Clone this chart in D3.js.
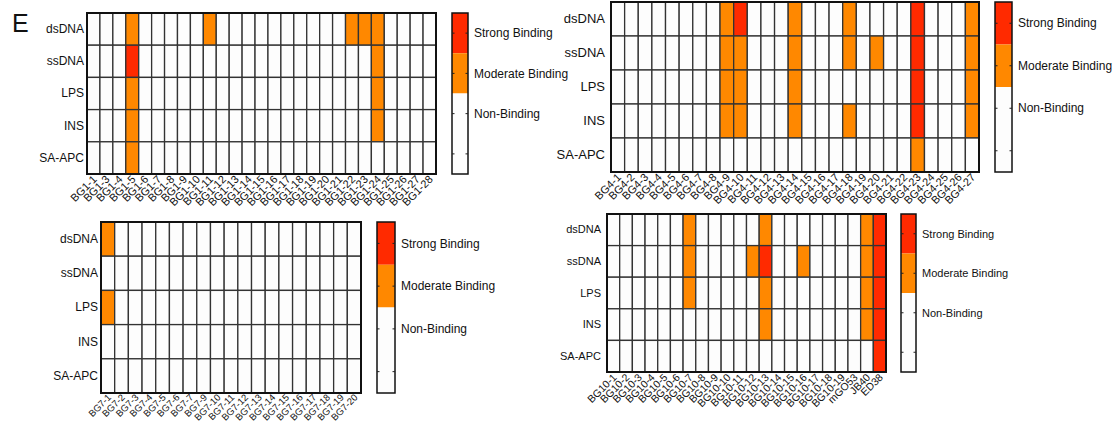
<!DOCTYPE html>
<html><head><meta charset="utf-8">
<script src="https://cdn.jsdelivr.net/npm/d3@7"></script>
<style>body{margin:0;background:#fff}svg{display:block}text{font-family:"Liberation Sans",Arial,sans-serif;fill:#111}</style>
</head><body><svg id="c" width="1113" height="423"></svg>
<script>
// 0 = Non-Binding, 1 = Moderate Binding, 2 = Strong Binding
const rows = ["dsDNA","ssDNA","LPS","INS","SA-APC"];
const levelLabels = ["Strong Binding","Moderate Binding","Non-Binding"];

const cols1 = ["BG1-1","BG1-3","BG1-4","BG1-5","BG1-6","BG1-7","BG1-8","BG1-9","BG1-10","BG1-11","BG1-12","BG1-13","BG1-14","BG1-15","BG1-16","BG1-17","BG1-18","BG1-19","BG1-20","BG1-21","BG1-22","BG1-23","BG1-24","BG1-25","BG1-26","BG1-27","BG1-28"];
const vals1 = [
 [0,0,0,1,0,0,0,0,0,1,0,0,0,0,0,0,0,0,0,0,1,1,1,0,0,0,0],
 [0,0,0,2,0,0,0,0,0,0,0,0,0,0,0,0,0,0,0,0,0,0,1,0,0,0,0],
 [0,0,0,1,0,0,0,0,0,0,0,0,0,0,0,0,0,0,0,0,0,0,1,0,0,0,0],
 [0,0,0,1,0,0,0,0,0,0,0,0,0,0,0,0,0,0,0,0,0,0,1,0,0,0,0],
 [0,0,0,1,0,0,0,0,0,0,0,0,0,0,0,0,0,0,0,0,0,0,0,0,0,0,0]
];

const cols4 = ["BG4-1","BG4-2","BG4-3","BG4-4","BG4-5","BG4-6","BG4-7","BG4-8","BG4-9","BG4-10","BG4-11","BG4-12","BG4-13","BG4-14","BG4-15","BG4-16","BG4-17","BG4-18","BG4-19","BG4-20","BG4-21","BG4-22","BG4-23","BG4-24","BG4-25","BG4-26","BG4-27"];
const vals4 = [
 [0,0,0,0,0,0,0,0,1,2,0,0,0,1,0,0,0,1,0,0,0,0,2,0,0,0,1],
 [0,0,0,0,0,0,0,0,1,1,0,0,0,1,0,0,0,1,0,1,0,0,2,0,0,0,1],
 [0,0,0,0,0,0,0,0,1,1,0,0,0,1,0,0,0,0,0,0,0,0,2,0,0,0,1],
 [0,0,0,0,0,0,0,0,1,1,0,0,0,1,0,0,0,1,0,0,0,0,2,0,0,0,1],
 [0,0,0,0,0,0,0,0,0,0,0,0,0,0,0,0,0,0,0,0,0,0,1,0,0,0,0]
];

const cols7 = ["BG7-1","BG7-2","BG7-3","BG7-4","BG7-5","BG7-6","BG7-7","BG7-9","BG7-10","BG7-11","BG7-12","BG7-13","BG7-14","BG7-15","BG7-16","BG7-17","BG7-18","BG7-19","BG7-20"];
const vals7 = [
 [1,0,0,0,0,0,0,0,0,0,0,0,0,0,0,0,0,0,0],
 [0,0,0,0,0,0,0,0,0,0,0,0,0,0,0,0,0,0,0],
 [1,0,0,0,0,0,0,0,0,0,0,0,0,0,0,0,0,0,0],
 [0,0,0,0,0,0,0,0,0,0,0,0,0,0,0,0,0,0,0],
 [0,0,0,0,0,0,0,0,0,0,0,0,0,0,0,0,0,0,0]
];

const cols10 = ["BG10-1","BG10-2","BG10-3","BG10-4","BG10-5","BG10-6","BG10-7","BG10-8","BG10-9","BG10-10","BG10-11","BG10-12","BG10-13","BG10-14","BG10-15","BG10-16","BG10-17","BG10-18","BG10-19","mGO53","JB40","ED38"];
const vals10 = [
 [0,0,0,0,0,0,1,0,0,0,0,0,1,0,0,0,0,0,0,0,1,2],
 [0,0,0,0,0,0,1,0,0,0,0,1,2,0,0,1,0,0,0,0,1,2],
 [0,0,0,0,0,0,1,0,0,0,0,0,1,0,0,0,0,0,0,0,1,2],
 [0,0,0,0,0,0,0,0,0,0,0,0,1,0,0,0,0,0,0,0,1,2],
 [0,0,0,0,0,0,0,0,0,0,0,0,0,0,0,0,0,0,0,0,0,2]
];

const color = d3.scaleOrdinal().domain([0,1,2]).range(["#fdfdfd","#ff8800","#ff2a00"]);
const svg = d3.select("#c");

svg.append("text").attr("x",12).attr("y",32).attr("font-size",25).text("E");

function panel(cfg){
  const {cols, vals, x0, x1, y0, y1, lx0, lx1, rowFont, tickFont, legFont, rowGap, tOff} = cfg;
  const g = svg.append("g");
  const x = d3.scaleBand().domain(cols).range([x0,x1]);
  const y = d3.scaleBand().domain(rows).range([y0,y1]);
  const cells = [];
  vals.forEach((r,i)=>r.forEach((v,j)=>cells.push({row:rows[i],col:cols[j],v})));
  g.selectAll("rect.cell").data(cells).join("rect")
    .attr("x",d=>x(d.col)).attr("y",d=>y(d.row))
    .attr("width",x.bandwidth()).attr("height",y.bandwidth())
    .attr("fill",d=>color(d.v)).attr("stroke","#333").attr("stroke-width",1.3);
  g.append("rect").attr("x",x0).attr("y",y0).attr("width",x1-x0).attr("height",y1-y0)
    .attr("fill","none").attr("stroke","#111").attr("stroke-width",2);
  // row labels
  const ya = g.append("g").attr("transform",`translate(${x0-rowGap},0)`)
    .call(d3.axisLeft(y).tickSize(0).tickPadding(0));
  ya.select(".domain").remove();
  ya.selectAll("text").attr("font-size",rowFont).attr("fill","#111")
    .style("font-family",'"Liberation Sans",Arial,sans-serif');
  // column labels
  const xa = g.append("g").attr("transform",`translate(0,${y1+1})`)
    .call(d3.axisBottom(x).tickSize(0).tickPadding(0));
  xa.select(".domain").remove();
  xa.selectAll("text").attr("font-size",tickFont).attr("fill","#111")
    .style("font-family",'"Liberation Sans",Arial,sans-serif')
    .attr("text-anchor","end").attr("dy",0).attr("dx",0)
    .attr("transform",`translate(${tOff[0]},${tOff[1]}) rotate(-45)`);
  // legend
  const ly = d3.scaleLinear().domain([0,4]).range([y0,y1]);
  const bands = [{a:0,b:1,v:2},{a:1,b:2,v:1},{a:2,b:4,v:0}];
  const lg = svg.append("g");
  lg.selectAll("rect.b").data(bands).join("rect")
    .attr("x",lx0).attr("width",lx1-lx0)
    .attr("y",d=>ly(d.a)).attr("height",d=>ly(d.b)-ly(d.a))
    .attr("fill",d=>color(d.v));
  lg.append("rect").attr("x",lx0).attr("y",y0).attr("width",lx1-lx0).attr("height",y1-y0)
    .attr("fill","none").attr("stroke","#111").attr("stroke-width",1.5);
  const tks = [0.5,1.5,2.5,3.5];
  lg.selectAll("line.l").data(tks).join("line")
    .attr("x1",lx0).attr("x2",lx0+2.5).attr("y1",d=>ly(d)).attr("y2",d=>ly(d)).attr("stroke","#222").attr("stroke-width",1);
  lg.selectAll("line.r").data(tks).join("line")
    .attr("x1",lx1-2.5).attr("x2",lx1).attr("y1",d=>ly(d)).attr("y2",d=>ly(d)).attr("stroke","#222").attr("stroke-width",1);
  lg.selectAll("text").data(levelLabels).join("text")
    .attr("x",lx1+6).attr("y",(d,i)=>ly(tks[i])).attr("dy","0.35em")
    .attr("font-size",legFont).text(d=>d);
}

panel({cols:cols1, vals:vals1, x0:87, x1:436, y0:13, y1:174, lx0:452, lx1:468, rowFont:12, tickFont:11, legFont:12, rowGap:3, tOff:[4,5]});
panel({cols:cols4, vals:vals4, x0:611, x1:979, y0:2, y1:172, lx0:995, lx1:1012, rowFont:13, tickFont:11, legFont:12, rowGap:6, tOff:[4,5]});
panel({cols:cols7, vals:vals7, x0:101, x1:361, y0:222, y1:393, lx0:377, lx1:395, rowFont:12, tickFont:9.5, legFont:12, rowGap:3, tOff:[4,4]});
panel({cols:cols10, vals:vals10, x0:607, x1:886, y0:214, y1:372, lx0:901, lx1:916, rowFont:11, tickFont:10.5, legFont:11, rowGap:6, tOff:[4,5]});
</script></body></html>
